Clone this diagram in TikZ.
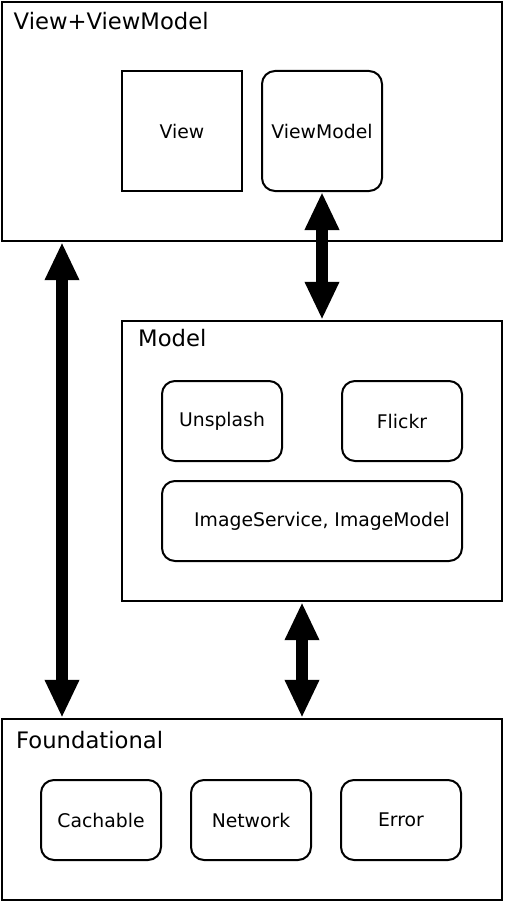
\documentclass[tikz,border=0pt]{standalone}
\usepackage{fontspec}
\setmainfont{DejaVu Sans}
\usetikzlibrary{arrows.meta}
\begin{document}
\begin{tikzpicture}[x=1pt,y=-1pt,
  box/.style={draw=black,line width=2.4pt,inner sep=0pt},
  inbox/.style={draw=black,line width=2pt,inner sep=0pt,minimum width=120pt,minimum height=80pt,
    font=\fontsize{18.8}{22}\selectfont},
  rnd/.style={rounded corners=13pt},
  title/.style={anchor=base west,inner sep=0pt,font=\fontsize{22.7}{27}\selectfont},
  bigarrow/.style={line width=12pt,{Triangle[length=38pt,width=32pt]}-{Triangle[length=38pt,width=32pt]}}]
\useasboundingbox[fill=white] (0,0) rectangle (506,904);

% layers
\node[box,minimum width=500pt,minimum height=239pt] (top) at (252,121.5) {};
\node[box,minimum width=380pt,minimum height=280pt] (model) at (312,461) {};
\node[box,minimum width=500pt,minimum height=181pt] (found) at (252,809.5) {};

% titles
\node[title] (ttop) at (13.5,30) {View+ViewModel};
\node[title] (tmodel) at (138,346.5) {Model};
\node[title] (tfound) at (16,748) {Foundational};

% View+ViewModel contents
\node[inbox,minimum height=120pt] (view) at (182,131) {View};
\node[inbox,rnd,minimum height=120pt] (vm) at (322,131) {ViewModel};

% Model contents
\node[inbox,rnd] (unsplash) at (222,421) {Unsplash};
\node[inbox,rnd] (flickr) at (402,421) {Flickr};
\node[inbox,rnd,minimum width=300pt] (imgsvc) at (312,521) {\hspace*{20pt}ImageService, ImageModel};

% Foundational contents
\node[inbox,rnd] (cach) at (101,820) {Cachable};
\node[inbox,rnd] (net) at (251,820) {Network};
\node[inbox,rnd] (err) at (401,820) {Error};

% arrows
\coordinate (lx) at (62,0);
\coordinate (mx) at (302,0);
\draw[bigarrow] (vm.south) -- (vm.south |- model.north);
\draw[bigarrow] (lx |- top.south) -- (lx |- found.north);
\draw[bigarrow] (mx |- model.south) -- (mx |- found.north);
\end{tikzpicture}
\end{document}
